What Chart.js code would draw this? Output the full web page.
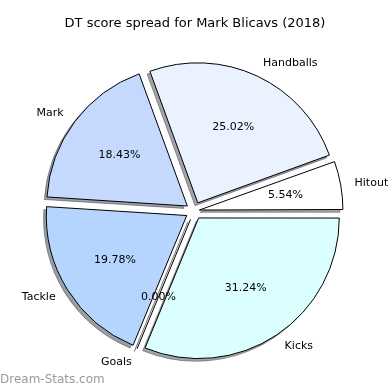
<!DOCTYPE html>
<html>
<head>
<meta charset="utf-8">
<script src="https://cdn.jsdelivr.net/npm/chart.js@4"></script>
<style>
  html, body { margin: 0; padding: 0; background: #fff; }
  #wrap { width: 390px; height: 390px; position: relative; }
</style>
</head>
<body>
<div id="wrap"><canvas id="myChart"></canvas></div>
<script>
// slices in matplotlib order (counter-clockwise from east)
const categories = ["Hitout", "Handballs", "Mark", "Tackle", "Goals", "Kicks"];
const shares = [5.54, 25.02, 18.43, 19.78, 0.00, 31.24];
const sliceColors = ["#ffffff", "#eaf1ff", "#c5d9ff", "#b5d5ff", "#ffffff", "#dbffff"];
const titleText = "DT score spread for Mark Blicavs (2018)";
const watermark = "Dream-Stats.com";

// chart.js goes clockwise, so flip the order
const labels = categories.slice().reverse();
const values = shares.slice().reverse();
const colors = sliceColors.slice().reverse();

const RADIUS = 140;
const EXPLODE = 9;
const total = values.reduce((a, b) => a + b, 0);

function shadowColor(hex) {
  const r = parseInt(hex.substr(1, 2), 16) * 0.3;
  const g = parseInt(hex.substr(3, 2), 16) * 0.3;
  const b = parseInt(hex.substr(5, 2), 16) * 0.3;
  return "rgba(" + r + "," + g + "," + b + ",0.5)";
}

// same translate rule as ArcElement.draw, so every slice moves EXPLODE px
function offsetFor(ctx) {
  const circ = values[ctx.dataIndex] / total * Math.PI * 2;
  const fix = 1 - Math.sin(Math.min(Math.PI, circ));
  return 4 * EXPLODE / (1 + fix);
}

const pieExtras = {
  id: "pieExtras",
  beforeDatasetsDraw(chart) {
    const c = chart.ctx;
    const arcs = chart.getDatasetMeta(0).data;
    arcs.forEach((arc, i) => {
      const mid = (arc.startAngle + arc.endAngle) / 2;
      const cx = arc.x + Math.cos(mid) * EXPLODE - 2.8;
      const cy = arc.y + Math.sin(mid) * EXPLODE + 2.8;
      c.save();
      c.fillStyle = shadowColor(colors[i]);
      c.strokeStyle = shadowColor(colors[i]);
      c.lineWidth = 1;
      c.beginPath();
      c.moveTo(cx, cy);
      c.arc(cx, cy, arc.outerRadius, arc.startAngle, arc.endAngle);
      c.closePath();
      if (arc.endAngle > arc.startAngle) c.fill();
      c.stroke();
      c.restore();
    });
  },
  afterDatasetsDraw(chart) {
    const c = chart.ctx;
    const arcs = chart.getDatasetMeta(0).data;
    c.save();
    c.font = "11px 'DejaVu Sans'";
    c.fillStyle = "#000";
    c.textBaseline = "middle";
    arcs.forEach((arc, i) => {
      const mid = (arc.startAngle + arc.endAngle) / 2;
      const cs = Math.cos(mid), sn = Math.sin(mid);
      if (arc.endAngle === arc.startAngle) {
        // zero slice: matplotlib still draws its edge
        const cx = arc.x + cs * EXPLODE, cy = arc.y + sn * EXPLODE;
        c.strokeStyle = "#000";
        c.lineWidth = 1;
        c.beginPath();
        c.moveTo(cx, cy);
        c.lineTo(cx + cs * arc.outerRadius, cy + sn * arc.outerRadius);
        c.stroke();
      }
      const lr = arc.outerRadius * 1.1 + EXPLODE;
      c.textAlign = cs > 0 ? "left" : "right";
      c.fillText(labels[i], arc.x + cs * lr, arc.y + sn * lr);
      const pr = arc.outerRadius * 0.6 + EXPLODE;
      c.textAlign = "center";
      c.fillText(values[i].toFixed(2) + "%", arc.x + cs * pr, arc.y + sn * pr);
    });
    c.restore();
  },
  afterDraw(chart) {
    const c = chart.ctx;
    c.save();
    c.fillStyle = "#000";
    c.font = "13px 'DejaVu Sans'";
    c.textAlign = "center";
    c.textBaseline = "middle";
    c.fillText(titleText, 195, 24);
    c.fillStyle = "#9a9a9a";
    c.font = "12px 'DejaVu Sans'";
    c.textAlign = "left";
    c.fillText(watermark, 0, 380);
    c.restore();
  }
};

new Chart(document.getElementById("myChart"), {
  type: "pie",
  data: {
    labels: labels,
    datasets: [{
      data: values,
      backgroundColor: colors,
      borderColor: "#000",
      borderWidth: 1,
      borderJoinStyle: "miter",
      offset: offsetFor
    }]
  },
  options: {
    responsive: true,
    maintainAspectRatio: false,
    animation: false,
    events: [],
    rotation: 90,
    radius: RADIUS,
    layout: { padding: { left: 10, right: 12, top: 50, bottom: 18 } },
    plugins: {
      legend: { display: false },
      title: { display: false },
      tooltip: { enabled: false }
    }
  },
  plugins: [pieExtras]
});
</script>
</body>
</html>
